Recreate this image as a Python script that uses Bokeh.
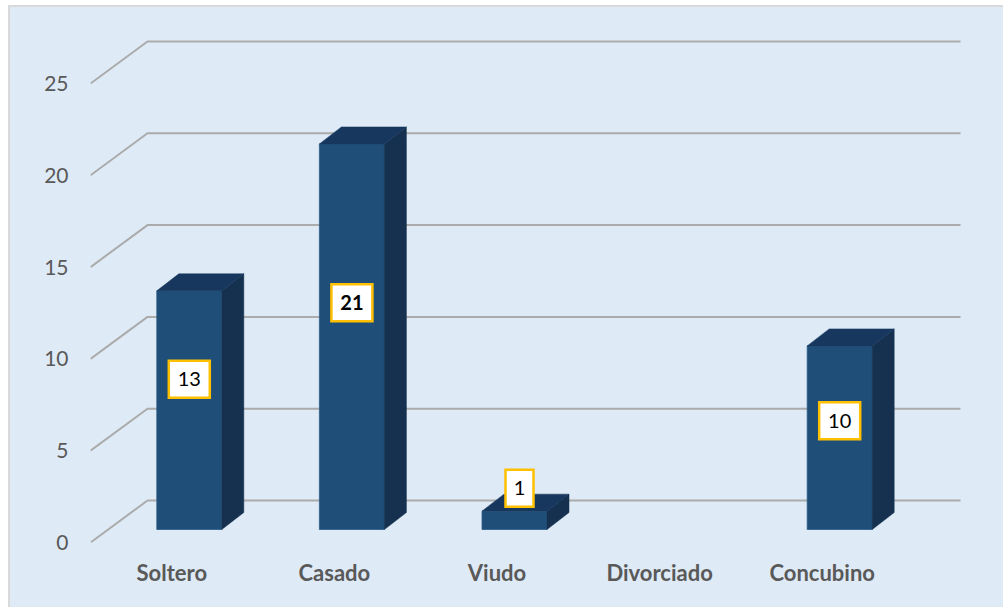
from bokeh.plotting import figure
from bokeh.models import FixedTicker, ColumnDataSource, InlineStyleSheet
from bokeh.core.properties import value
from bokeh.embed import file_html
from bokeh.resources import INLINE

categories = ["Soltero", "Casado", "Viudo", "Divorciado", "Concubino"]
values = [13, 21, 1, 0, 10]
bold_labels = [False, True, False, False, False]
y_ticks = [0, 5, 10, 15, 20, 25]

BG = "#DEEAF6"
FRONT, SIDE, TOP = "#1F4E79", "#15314F", "#17375E"
GRID = "#ABABAB"
PX_X, PX_Y = 162.6, 18.36  # pixels per category / per unit

FONT = "Lato"
# white page strip and thin frame on the left and top of the chart area
frame_css = InlineStyleSheet(css="""
:host::before {content:""; position:absolute; inset:0; box-sizing:border-box; z-index:20;
  pointer-events:none; border-left:8px solid white; border-top:5px solid white;}
:host::after {content:""; position:absolute; left:8px; top:5px; right:0; bottom:0; box-sizing:border-box;
  z-index:21; pointer-events:none; border-left:2px solid #D9D9D9; border-top:2px solid #D9D9D9;}
""")
p = figure(width=1003, height=607, output_backend="svg", toolbar_location=None,
           x_range=(-0.5, 4.5 + 67 / PX_X), y_range=(0, 512 / PX_Y),
           min_border_left=90, min_border_right=33, min_border_top=30, min_border_bottom=65,
           background_fill_color=None, border_fill_color=None,
           stylesheets=[frame_css],
           styles={"position": "fixed", "left": "0", "top": "0", "background": BG})
p.outline_line_color = None
p.grid.visible = False

p.yaxis.ticker = FixedTicker(ticks=y_ticks)
p.xaxis.ticker = FixedTicker(ticks=list(range(len(categories))))
p.xaxis.major_label_overrides = {i: c for i, c in enumerate(categories)}
for ax in (p.xaxis[0], p.yaxis[0]):
    ax.axis_line_color = None
    ax.major_tick_line_color = None
    ax.minor_tick_line_color = None
    ax.major_label_text_color = "#595959"
    ax.major_label_text_font = FONT
p.yaxis.major_label_text_font_size = "21px"
p.yaxis.major_label_standoff = 16
p.xaxis.major_label_text_font_size = "22px"
p.xaxis.major_label_text_font_style = "bold"
p.xaxis.major_label_standoff = 10

# gridlines on the receding wall
wall_dx, wall_dy = 57 / PX_X, 42 / PX_Y
x0, x1 = -0.5, len(categories) - 0.5
for t in y_ticks:
    p.line([x0, x0 + wall_dx, x1 + wall_dx], [t, t + wall_dy, t + wall_dy],
           line_color=GRID, line_width=2)

# 3D bars
base = 13 / PX_Y
left, right = -15 / PX_X, 50 / PX_X
dx, dy = 22 / PX_X, 17 / PX_Y
fx, fy, sx, sy, tx, ty = [], [], [], [], [], []
for i, v in enumerate(values):
    if v <= 0:
        continue
    a, b, top = i + left, i + right, base + v
    fx.append([a, b, b, a]); fy.append([base, base, top, top])
    sx.append([b, b + dx, b + dx, b]); sy.append([base, base + dy, top + dy, top])
    tx.append([a, b, b + dx, a + dx]); ty.append([top, top, top + dy, top + dy])
p.patches(fx, fy, fill_color=FRONT, line_color="#2A5A86", line_width=0.8)
p.patches(sx, sy, fill_color=SIDE, line_color=SIDE, line_width=0.5)
p.patches(tx, ty, fill_color=TOP, line_color=TOP, line_width=0.5)

# data labels
lift_px = [31, 34, 32, 0, 17]
shift_px = [0, 0, 5, 0, 0]
lab_x, lab_y, lab_t, lab_w, lab_style = [], [], [], [], []
for i, v in enumerate(values):
    if v <= 0:
        continue
    lab_x.append(i + (left + right) / 2 + shift_px[i] / PX_X)
    lab_y.append(base + v / 2 + lift_px[i] / PX_Y)
    lab_t.append(str(v))
    lab_w.append(41 if v >= 10 else 28)
    lab_style.append("bold" if bold_labels[i] else "normal")
src = ColumnDataSource(dict(x=lab_x, y=lab_y, t=lab_t, w=lab_w, s=lab_style))
p.rect("x", "y", width="w", height=37, width_units="screen", height_units="screen", source=src,
       fill_color="white", line_color="#FFC000", line_width=2.5, line_join="miter")
p.text("x", "y", text="t", source=src, text_align="center", text_baseline="middle",
       text_font=value(FONT), text_font_size="20px", text_font_style="s", text_color="black")

open("out.html", "w").write(file_html(p, INLINE))
